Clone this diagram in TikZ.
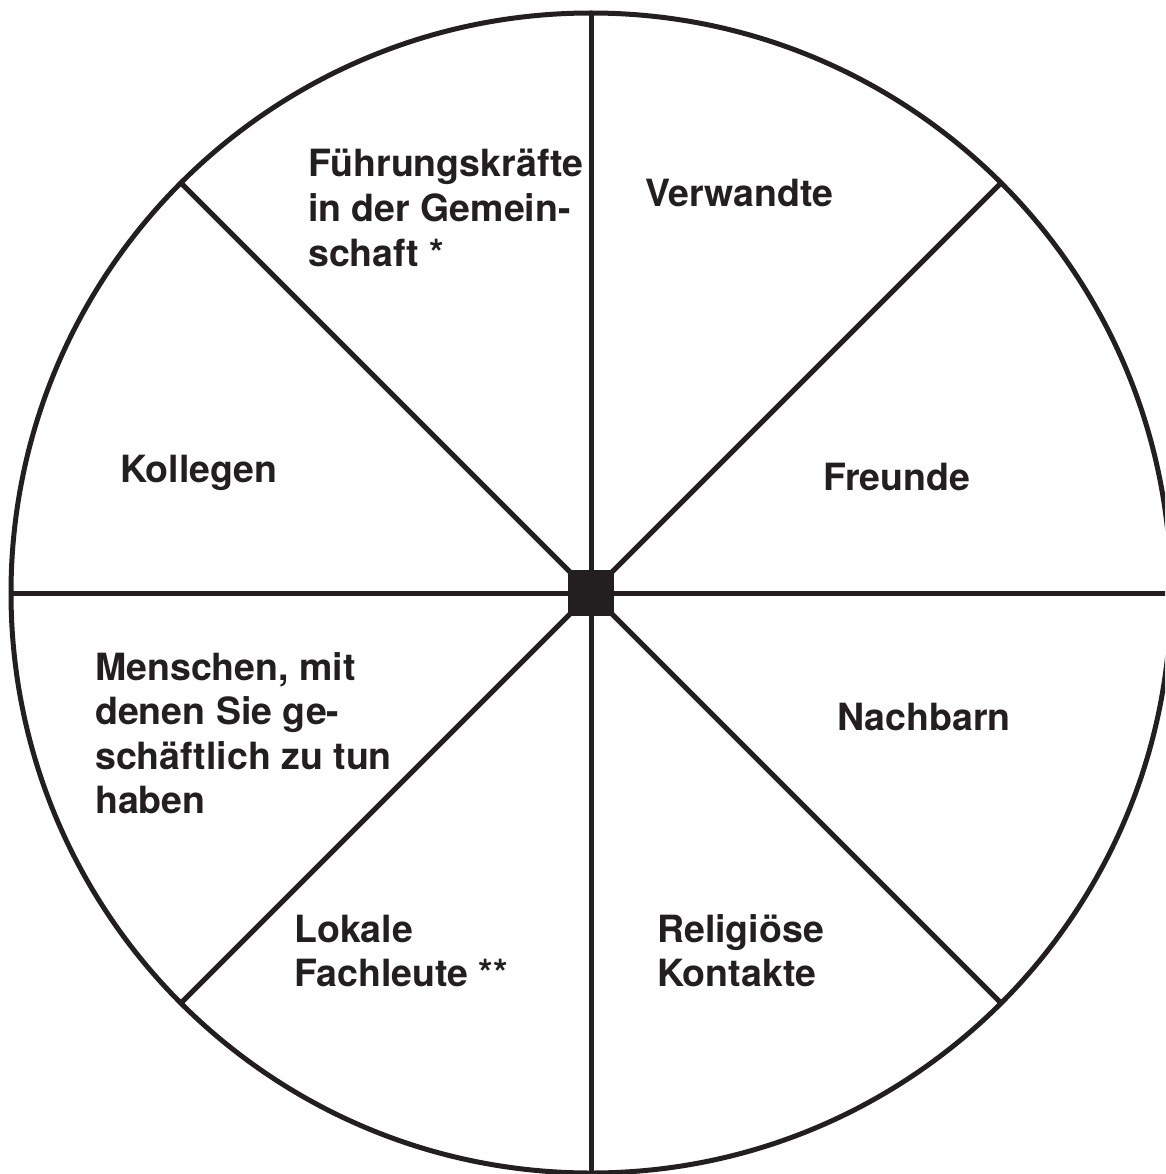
\documentclass[tikz,border=0pt]{standalone}
\usepackage{fontspec}
\setmainfont{TeX Gyre Heros}
\usetikzlibrary{calc}
\definecolor{ink}{HTML}{231F20}
\begin{document}
\begin{tikzpicture}[x=1pt,y=-1pt,
  ring/.style={draw=ink,line width=5pt},
  spoke/.style={draw=ink,line width=5pt},
  hub/.style={fill=ink,draw=none,minimum size=46pt,inner sep=0pt},
  lbl/.style={text=ink,font=\fontsize{37.5}{44.5}\selectfont\bfseries,align=left,anchor=base west,inner sep=0pt}]
\useasboundingbox (0,0) rectangle (1165,1174);
\clip (0,0) rectangle (1165,1174);
\coordinate (O) at (591,593);
\draw[ring] (O) circle[radius=580];
\foreach \a in {0,45,...,315}{
  \coordinate (p\a) at ($(O)+(\a:580)$);
}
\node[hub] (c) at (O) {};
\foreach \a in {0,45,...,315}{
  \draw[spoke] (c.center) -- (p\a);
}
\node[hub] (c2) at (O) {};
% multi-line nodes: base anchor sits on the last line's baseline
\node[lbl] (fuehr) at (308,266) {Führungskräfte\\in der Gemein-\\schaft *};
\node[lbl] (verw) at (645,207) {Verwandte};
\node[lbl] (koll) at (120,482) {Kollegen};
\node[lbl] (freu) at (823,490) {Freunde};
\node[lbl] (nach) at (837,730) {Nachbarn};
\node[lbl] (mensch) at (95,813.5) {Menschen, mit\\denen Sie ge-\\schäftlich zu tun\\haben};
\node[lbl] (lokal) at (294,986.5) {Lokale\\Fachleute **};
\node[lbl] (relig) at (657,986.5) {Religiöse\\Kontakte};
\end{tikzpicture}
\end{document}
